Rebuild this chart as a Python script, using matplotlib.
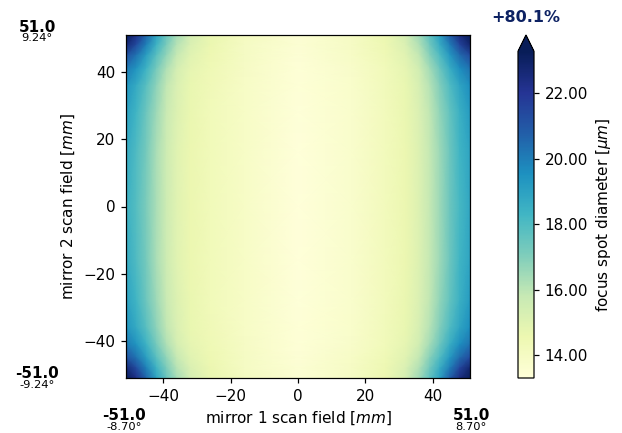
import numpy as np
import matplotlib
matplotlib.use("Agg")
import matplotlib.pyplot as plt
from matplotlib.ticker import FormatStrFormatter

# ---- data ----
x_nodes = [-51, -48, -45, -42, -39, -36, -32, -26, -16, 0, 16, 26, 32, 36, 39, 42, 45, 48, 51]
y_nodes = [51, 48, 45, 41, 36, 28, 16, 0, -16, -28, -36, -41, -45, -48, -51]

row_p51 = [24.0, 22.3, 20.6, 18.9, 17.5, 16.4, 15.4, 14.7, 14.1, 13.5, 14.0, 14.6, 15.4, 16.5, 17.7, 19.0, 20.8, 22.5, 24.2]
row_p48 = [22.6, 21.3, 19.9, 18.4, 17.1, 16.1, 15.2, 14.6, 14.0, 13.5, 13.95, 14.5, 15.2, 16.2, 17.3, 18.6, 20.0, 21.5, 22.8]
row_p45 = [21.2, 20.3, 19.1, 17.8, 16.7, 15.8, 15.0, 14.5, 14.0, 13.45, 13.9, 14.4, 15.0, 15.9, 16.9, 18.0, 19.3, 20.5, 21.4]
row_p41 = [20.1, 19.4, 18.4, 17.2, 16.2, 15.4, 14.8, 14.4, 13.95, 13.4, 13.8, 14.3, 14.8, 15.5, 16.4, 17.4, 18.6, 19.6, 20.3]
row_p36 = [19.4, 18.7, 17.8, 16.8, 15.9, 15.2, 14.7, 14.35, 13.9, 13.4, 13.75, 14.25, 14.7, 15.3, 16.1, 17.0, 18.0, 18.9, 19.6]
row_p28 = [19.0, 18.3, 17.4, 16.5, 15.7, 15.1, 14.65, 14.3, 13.9, 13.35, 13.7, 14.2, 14.65, 15.2, 15.9, 16.7, 17.6, 18.5, 19.2]
row_p16 = [18.7, 18.0, 17.2, 16.3, 15.6, 15.0, 14.6, 14.3, 13.9, 13.3, 13.7, 14.2, 14.6, 15.1, 15.8, 16.5, 17.4, 18.3, 18.9]
row_0   = [18.5, 17.9, 17.1, 16.3, 15.6, 15.0, 14.6, 14.3, 13.9, 13.3, 13.7, 14.2, 14.6, 15.1, 15.8, 16.5, 17.4, 18.2, 18.8]
row_m16 = [18.7, 18.0, 17.2, 16.3, 15.6, 15.0, 14.6, 14.3, 13.9, 13.3, 13.7, 14.2, 14.6, 15.1, 15.8, 16.5, 17.4, 18.3, 18.9]
row_m28 = [19.0, 18.3, 17.4, 16.5, 15.7, 15.1, 14.65, 14.3, 13.9, 13.35, 13.7, 14.2, 14.65, 15.2, 15.9, 16.7, 17.6, 18.5, 19.2]
row_m36 = [19.4, 18.7, 17.8, 16.8, 15.9, 15.2, 14.7, 14.35, 13.9, 13.4, 13.75, 14.25, 14.7, 15.3, 16.1, 17.0, 18.0, 18.9, 19.6]
row_m41 = [20.1, 19.4, 18.4, 17.2, 16.2, 15.4, 14.8, 14.4, 13.95, 13.4, 13.8, 14.3, 14.8, 15.5, 16.4, 17.4, 18.6, 19.6, 20.3]
row_m45 = [21.2, 20.3, 19.1, 17.8, 16.7, 15.8, 15.0, 14.5, 14.0, 13.45, 13.9, 14.4, 15.0, 15.9, 16.9, 18.0, 19.3, 20.5, 21.4]
row_m48 = [22.6, 21.3, 19.9, 18.4, 17.1, 16.1, 15.2, 14.6, 14.0, 13.5, 13.95, 14.5, 15.2, 16.2, 17.3, 18.6, 20.0, 21.5, 22.8]
row_m51 = [24.0, 22.3, 20.6, 18.9, 17.5, 16.4, 15.4, 14.7, 14.1, 13.5, 14.0, 14.6, 15.4, 16.5, 17.7, 19.0, 20.8, 22.5, 24.2]

vmin, vmax = 13.3, 23.28
cbar_ticks = [14, 16, 18, 20, 22]
x_ticks = [-40, -20, 0, 20, 40]
y_ticks = [-40, -20, 0, 20, 40]

corner_labels = {
    "y_top": ("51.0", "9.24°"),
    "y_bot": ("-51.0", "-9.24°"),
    "x_left": ("-51.0", "-8.70°"),
    "x_right": ("51.0", "8.70°"),
}
percent_label = "+80.1%"

# ---- figure ----
W, H = 622, 433
DPI = 110
fig = plt.figure(figsize=(W / DPI, H / DPI), dpi=DPI)

ax = fig.add_axes([126 / W, 1 - 378 / H, (470 - 126) / W, (378 - 35) / H])
Z = np.array([row_p51, row_p48, row_p45, row_p41, row_p36, row_p28, row_p16, row_0,
              row_m16, row_m28, row_m36, row_m41, row_m45, row_m48, row_m51])
X, Y = np.meshgrid(x_nodes, y_nodes)
mesh = ax.pcolormesh(X, Y, Z, shading="gouraud", cmap="YlGnBu", vmin=vmin, vmax=vmax)
ax.set_xlim(-51, 51)
ax.set_ylim(-51, 51)
ax.set_xticks(x_ticks)
ax.set_yticks(y_ticks)
ax.set_xlabel("mirror 1 scan field [$mm$]")
ax.set_ylabel("mirror 2 scan field [$mm$]")

cax = fig.add_axes([518 / W, 1 - 378 / H, 16 / W, (378 - 35) / H])
cb = fig.colorbar(mesh, cax=cax, extend="max")
cb.set_ticks(cbar_ticks)
cb.ax.yaxis.set_major_formatter(FormatStrFormatter("%.2f"))
cb.set_label("focus spot diameter [$\\mu m$]")

def ftext(px, py, s, **kw):
    fig.text(px / W, 1 - py / H, s, ha="center", va="center", **kw)

ftext(37, 27, corner_labels["y_top"][0], fontsize=10, fontweight="bold")
ftext(37, 38, corner_labels["y_top"][1], fontsize=7.5)
ftext(37, 373, corner_labels["y_bot"][0], fontsize=10, fontweight="bold")
ftext(37, 385, corner_labels["y_bot"][1], fontsize=7.5)
ftext(124, 416, corner_labels["x_left"][0], fontsize=10, fontweight="bold")
ftext(124, 427, corner_labels["x_left"][1], fontsize=7.5)
ftext(471, 416, corner_labels["x_right"][0], fontsize=10, fontweight="bold")
ftext(471, 427, corner_labels["x_right"][1], fontsize=7.5)
ftext(526, 18, percent_label, fontsize=10.5, fontweight="bold", color="#0d2263")

fig.savefig("out.png", dpi=DPI)
